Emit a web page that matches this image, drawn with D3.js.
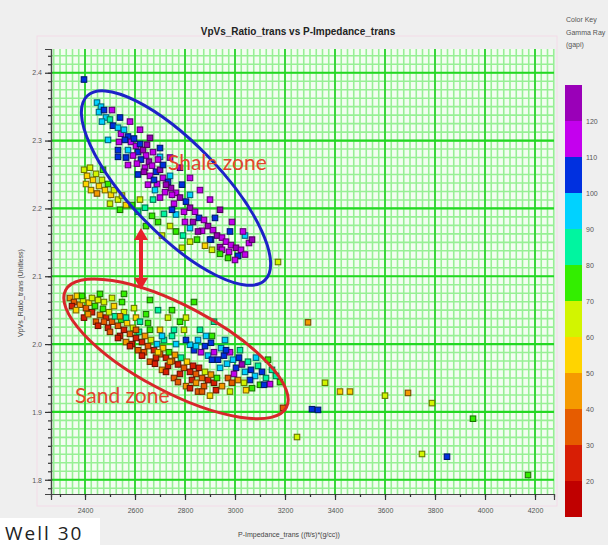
<!DOCTYPE html>
<html><head><meta charset="utf-8">
<script src="https://cdn.jsdelivr.net/npm/d3@7"></script>
<style>body{margin:0;background:#fff}svg{display:block}</style>
</head><body>
<svg id="chart" width="608" height="545"></svg>
<script>
// Gamma ray colour key (gapi): band edges and colours
const gammaBreaks = [20, 30, 40, 50, 60, 70, 80, 90, 100, 110, 120];
const gammaColors = ["#c00000", "#d81e05", "#e65c00", "#f59a00", "#ffd400", "#d2f500",
                     "#33ee00", "#00f5a0", "#00d2ff", "#0030e0", "#c400ee", "#9a00b8"];
const gammaRange = [10, 130];
const keyLabels = [20, 30, 40, 50, 60, 70, 80, 90, 100, 110, 120];

// Axis ticks
const xTicks = [2400, 2600, 2800, 3000, 3200, 3400, 3600, 3800, 4000, 4200];
const yTicks = [1.8, 1.9, 2.0, 2.1, 2.2, 2.3, 2.4];
const xDomain = [2264, 4276];
const yDomain = [1.779, 2.435];

// Samples: [P-impedance, Vp/Vs, gamma ray]
const shalePts = [
 [2396,2.390,104],[2448,2.356,92],[2464,2.350,95],[2456,2.342,90],[2476,2.345,100],
 [2484,2.334,92],[2468,2.328,96],[2500,2.331,88],[2512,2.322,104],[2532,2.319,94],
 [2544,2.310,115],[2556,2.316,92],[2536,2.298,118],[2572,2.306,104],[2584,2.298,112],
 [2596,2.303,100],[2604,2.292,118],[2620,2.295,108],[2612,2.283,104],[2632,2.286,120],
 [2592,2.278,112],[2644,2.278,118],[2624,2.272,102],[2656,2.269,124],[2608,2.266,115],
 [2640,2.260,110],[2668,2.263,119],[2684,2.254,104],[2660,2.248,116],[2700,2.257,122],
 [2712,2.245,112],[2688,2.236,118],[2732,2.239,106],[2744,2.230,120],[2720,2.224,114],
 [2764,2.223,110],[2780,2.216,122],[2756,2.207,116],[2804,2.210,108],[2820,2.201,120],
 [2796,2.195,112],[2840,2.195,118],[2856,2.186,106],[2832,2.180,124],[2876,2.183,114],
 [2892,2.174,120],[2868,2.167,110],[2912,2.168,116],[2928,2.160,122],[2904,2.154,108],
 [2948,2.157,118],[2964,2.151,112],[2940,2.143,120],[2984,2.146,116],[3004,2.142,122],
 [2976,2.136,110],[3024,2.139,118],[3040,2.132,114],[3012,2.130,106],[3056,2.149,118],
 [2572,2.286,94],[2564,2.275,108],[2700,2.276,98],[2740,2.248,96],[2680,2.227,92],
 [2764,2.191,95],[2820,2.171,98],[2920,2.186,102],[2980,2.166,104],[3040,2.160,92],
 [2532,2.276,100],[2560,2.301,102],
 [2508,2.345,110],[2540,2.334,104],[2580,2.328,118],[2620,2.316,112],[2660,2.304,120],
 [2700,2.289,108],[2740,2.275,116],[2780,2.260,122],[2820,2.245,110],[2860,2.227,118],
 [2900,2.213,112],[2940,2.198,120],[2988,2.180,116],[3032,2.166,110],[3068,2.154,122],
 [2492,2.301,98],[2532,2.286,106],[2572,2.264,114],[2612,2.250,104],[2652,2.235,118],
 [2700,2.216,110],[2748,2.198,100],[2800,2.180,114],[2852,2.166,120],[2900,2.154,106],
 [2948,2.139,118],[3000,2.124,112],
 [2648,2.294,122],[2672,2.283,110],[2692,2.272,118],[2712,2.264,104],[2636,2.254,120],
 [2676,2.242,108],[2724,2.235,124],[2748,2.220,112],[2788,2.235,104],[2820,2.220,96]
];
const shaleLowPts = [
 [2588,2.205,75],[2612,2.195,82],[2640,2.201,88],[2668,2.189,72],[2692,2.180,78],
 [2716,2.192,85],[2740,2.174,66],[2764,2.166,72],[2792,2.160,80],[2820,2.151,64],
 [2848,2.154,74],[2880,2.145,58],[2908,2.139,68],[2940,2.133,76],[2708,2.160,62],
 [2644,2.174,70],[2788,2.142,60],[2972,2.127,72],[2620,2.213,66],[2672,2.213,84]
];
const siltPts = [
 [2396,2.257,62],[2408,2.248,58],[2420,2.260,66],[2432,2.242,55],[2444,2.251,60],
 [2456,2.233,52],[2468,2.242,64],[2480,2.227,58],[2492,2.236,70],[2504,2.220,56],
 [2516,2.227,62],[2532,2.213,60],[2548,2.219,68],[2564,2.205,58],[2424,2.227,54],
 [2448,2.222,48],[2500,2.207,66],[2540,2.198,72],[2472,2.257,72],[2404,2.236,50]
];
const sandPts = [
 [2340,2.068,40],[2356,2.062,30],[2368,2.071,55],[2380,2.058,45],[2392,2.065,65],
 [2404,2.053,35],[2416,2.061,58],[2428,2.047,28],[2440,2.056,72],[2452,2.065,62],
 [2460,2.043,42],[2472,2.052,78],[2484,2.039,25],[2496,2.047,66],[2508,2.033,38],
 [2520,2.041,85],[2532,2.027,30],[2544,2.036,74],[2556,2.021,22],[2568,2.031,58],
 [2580,2.015,35],[2592,2.024,68],[2604,2.009,28],[2616,2.018,80],[2628,2.003,24],
 [2640,2.012,48],[2652,1.997,32],[2664,2.006,62],[2676,1.991,26],[2688,2.000,90],
 [2700,1.985,36],[2712,1.994,55],[2724,1.980,22],[2736,1.988,76],[2748,1.975,30],
 [2760,1.984,44],[2772,1.970,25],[2784,1.980,88],[2796,1.965,33],[2808,1.974,58],
 [2820,1.959,20],[2832,1.968,28],[2844,1.956,35],[2856,1.965,24],[2868,1.950,30],
 [2880,1.959,64],[2892,1.947,22],[2904,1.955,40],[2916,1.943,26],[2928,1.950,70],
 [2820,1.999,98],[2836,1.991,105],[2852,2.006,92],[2864,1.988,110],[2880,1.997,100],
 [2892,1.983,96],[2904,2.002,104],[2916,1.988,118],[2932,1.977,102],[2944,1.994,94],
 [2956,1.983,108],[2968,1.971,98],[2980,1.988,112],[2992,1.977,92],[3004,1.965,104],
 [3016,1.980,100],[3028,1.970,120],[3040,1.959,96],[3052,1.974,88],[3064,1.962,106],
 [3080,1.953,94],[3092,1.968,80],[3108,1.959,100],[3124,1.950,86],[3140,1.941,112],
 [3100,1.940,76],[3068,1.935,70],[3164,1.953,84],[3132,1.977,78],
 [2460,2.074,72],[2508,2.068,66],[2548,2.062,78],[2596,2.053,62],[2644,2.044,74],
 [2692,2.050,82],[2732,2.039,68],[2780,2.033,76],[2836,2.062,72],[2796,2.021,64],
 [2748,2.012,80],[2700,2.021,58],[2652,2.031,70],[2604,2.039,52],[2556,2.047,60],
 [2860,2.021,86],[2908,2.012,78],[2960,2.006,90],[2764,2.000,92],[2716,2.006,84],
 [2396,2.039,26],[2444,2.033,32],[2492,2.024,22],[2540,2.012,28],[2588,2.000,20],
 [2636,1.988,30],[2684,1.980,24],[2732,1.968,28],[2780,1.956,22],[2828,1.947,26],
 [2876,1.938,34],[2924,1.932,24],[2972,1.950,30],[2948,1.938,42],[3012,1.947,46],
 [2660,1.974,38],[2564,2.003,44],[2612,1.991,36],[2708,1.962,40],[2756,1.950,34],
 [2804,1.938,48],[2852,1.930,38],[2980,1.930,62],[3044,1.932,58],[2900,1.924,50],
 [2348,2.056,28],[2364,2.050,50],[2388,2.071,70],[2412,2.044,40],[2428,2.068,60],
 [2452,2.027,24],[2476,2.062,66],[2500,2.018,30],[2516,2.056,56],[2532,2.009,26],
 [2564,2.039,80],[2580,1.997,22],[2620,2.033,86],[2628,1.983,28],[2660,2.021,76],
 [2680,1.971,20],[2708,2.012,92],[2724,1.959,26],[2756,2.021,88],[2772,1.944,30],
 [2804,2.006,100],[2820,1.935,24],[2844,1.997,94],[2868,1.930,32],[2884,2.012,90],
 [2908,1.977,108],[2940,1.965,96],[2964,1.991,100],[2996,1.956,114],[3020,1.991,84],
 [3060,1.947,100],[3084,1.980,92],[3116,1.940,104],[3148,1.962,88],[3180,1.944,74],
 [3036,1.943,64],[2988,1.943,36],[2844,1.943,40],[2740,1.974,44],[2692,1.988,50],
 [2604,2.021,34],[2540,2.041,42],[2476,2.033,36],[2556,2.074,74],[2660,2.065,70],
 [2748,2.050,76],[2804,2.039,62],[2916,2.033,80]
];
const outlierPts = [
 [3292,2.032,45],[3360,1.943,62],[3420,1.930,55],[3460,1.930,58],[3308,1.904,104],
 [3332,1.903,108],[3248,1.863,66],[3600,1.924,64],[3692,1.928,46],[3788,1.913,60],
 [3952,1.890,70],[3748,1.838,64],[3848,1.834,104],[4172,1.807,72],[3172,2.121,64],
 [3192,1.906,35]
];

// Interpretation annotations (centres in data units)
const shaleZone = {cx: 2764, cy: 2.230, rx: 128, ry: 45, angle: 46, label: "Shale zone", lx: 2732, ly: 2.257};
const sandZone  = {cx: 2764, cy: 1.993, rx: 125, ry: 43, angle: 28, label: "Sand zone", lx: 2360, ly: 1.913};
const separationArrow = {x: 2624, y1: 2.171, y2: 2.080};

const svg = d3.select("#chart");
const W = 608, H = 545;
const plot = {left: 51, right: 554, top: 49, bottom: 494};
const smallFont = "7px 'Liberation Sans', Arial, sans-serif";

// page background
svg.append("rect").attr("width", W).attr("height", H).attr("fill", "#efefef");
svg.append("rect").attr("x", 37).attr("y", 36).attr("width", 520).attr("height", 470)
  .attr("fill", "none").attr("stroke", "#f3dbe8").attr("stroke-width", 1);

const x = d3.scaleLinear().domain(xDomain).range([plot.left, plot.right]);
const y = d3.scaleLinear().domain(yDomain).range([plot.bottom, plot.top]);
const color = d3.scaleThreshold().domain(gammaBreaks).range(gammaColors);

// plot area and grid
svg.append("rect").attr("x", plot.left).attr("y", plot.top)
  .attr("width", plot.right - plot.left).attr("height", plot.bottom - plot.top)
  .attr("fill", "#f3fdf1");

const xMinor = d3.range(2275, 4276, 25);
const yMinor = d3.range(1.7875, 2.435, 0.0125);
const grid = svg.append("g");
grid.selectAll(".vx").data(xMinor).join("line")
  .attr("x1", d => x(d)).attr("x2", d => x(d)).attr("y1", plot.top).attr("y2", plot.bottom)
  .attr("stroke", "#97f095").attr("stroke-width", 1.6);
grid.selectAll(".hy").data(yMinor).join("line")
  .attr("x1", plot.left).attr("x2", plot.right).attr("y1", d => y(d)).attr("y2", d => y(d))
  .attr("stroke", "#97f095").attr("stroke-width", 1.6);
grid.selectAll(".vX").data(xTicks).join("line")
  .attr("x1", d => x(d)).attr("x2", d => x(d)).attr("y1", plot.top).attr("y2", plot.bottom)
  .attr("stroke", "#3ad63a").attr("stroke-width", 2);
grid.selectAll(".hY").data(yTicks).join("line")
  .attr("x1", plot.left).attr("x2", plot.right).attr("y1", d => y(d)).attr("y2", d => y(d))
  .attr("stroke", "#22d822").attr("stroke-width", 2.2);

// axes
const xAxis = svg.append("g").attr("transform", `translate(0,${plot.bottom})`)
  .call(d3.axisBottom(x).tickValues(xTicks).tickFormat(d3.format("d")).tickSize(6).tickPadding(8));
const xMinorAxis = svg.append("g").attr("transform", `translate(0,${plot.bottom})`)
  .call(d3.axisBottom(x).tickValues(d3.range(2300, 4276, 100)).tickFormat("").tickSize(3));
const yAxis = svg.append("g").attr("transform", `translate(${plot.left},0)`)
  .call(d3.axisLeft(y).tickValues(yTicks).tickFormat(d3.format(".1f")).tickSize(6).tickPadding(3));
const yMinorAxis = svg.append("g").attr("transform", `translate(${plot.left},0)`)
  .call(d3.axisLeft(y).tickValues(yMinor).tickFormat("").tickSize(3));
[xAxis, xMinorAxis, yAxis, yMinorAxis].forEach(g => {
  g.select(".domain").attr("stroke", "#444").attr("stroke-width", 1.2);
  g.selectAll(".tick line").attr("stroke", "#333").attr("stroke-width", 1.2);
  g.selectAll("text").attr("fill", "#555").style("font", smallFont);
});

// samples
const allGroups = [siltPts, shalePts, shaleLowPts, sandPts, outlierPts];
const s = 5.5;
allGroups.forEach(pts => {
  svg.append("g").selectAll("rect").data(pts).join("rect")
    .attr("x", d => x(d[0]) - s / 2).attr("y", d => y(d[1]) - s / 2)
    .attr("width", s).attr("height", s)
    .attr("fill", d => color(d[2]))
    .attr("stroke", d => d3.color(color(d[2])).darker(2))
    .attr("stroke-width", 1.1);
});

// zone ellipses
function zoneEllipse(z, stroke) {
  svg.append("ellipse")
    .attr("transform", `translate(${x(z.cx)},${y(z.cy)}) rotate(${z.angle})`)
    .attr("rx", z.rx).attr("ry", z.ry)
    .attr("fill", "none").attr("stroke", stroke).attr("stroke-width", 3);
}
zoneEllipse(shaleZone, "#1d22c8");
zoneEllipse(sandZone, "#d8262a");

// double-headed arrow between zones
const ax = x(separationArrow.x), ay1 = y(separationArrow.y1), ay2 = y(separationArrow.y2);
svg.append("line").attr("x1", ax).attr("x2", ax).attr("y1", ay1 + 10).attr("y2", ay2 - 10)
  .attr("stroke", "#e8202a").attr("stroke-width", 4);
svg.append("path").attr("d", `M${ax},${ay1} l-7,12 l14,0 Z`).attr("fill", "#e8202a");
svg.append("path").attr("d", `M${ax},${ay2} l-7,-12 l14,0 Z`).attr("fill", "#e8202a");

// zone labels
[shaleZone, sandZone].forEach(z => {
  svg.append("text").attr("x", x(z.lx)).attr("y", y(z.ly))
    .attr("fill", "#e2442c").style("font", "21px Lato, 'Open Sans', sans-serif")
    .text(z.label);
});

// titles
svg.append("text").attr("x", 298).attr("y", 35).attr("text-anchor", "middle")
  .style("font", "bold 10px 'Liberation Sans', Arial, sans-serif").attr("fill", "#222")
  .text("VpVs_Ratio_trans vs P-Impedance_trans");
svg.append("text").attr("x", 289).attr("y", 537).attr("text-anchor", "middle")
  .style("font", smallFont).attr("fill", "#444")
  .text("P-Impedance_trans ((ft/s)*(g/cc))");
svg.append("text").attr("transform", "translate(23,293) rotate(-90)").attr("text-anchor", "middle")
  .style("font", smallFont).attr("fill", "#444")
  .text("VpVs_Ratio_trans (Unitless)");

// colour key
const ky = d3.scaleLinear().domain(gammaRange).range([517, 85]);
const bands = d3.range(gammaColors.length).map(i => ({
  lo: i === 0 ? gammaRange[0] : gammaBreaks[i - 1],
  hi: i === gammaBreaks.length ? gammaRange[1] : gammaBreaks[i],
  c: gammaColors[i]
}));
svg.append("g").selectAll("rect").data(bands).join("rect")
  .attr("x", 565).attr("width", 17)
  .attr("y", d => ky(d.hi)).attr("height", d => ky(d.lo) - ky(d.hi))
  .attr("fill", d => d.c);
svg.append("g").selectAll("text").data(keyLabels).join("text")
  .attr("x", 586).attr("y", d => ky(d) + 2.5)
  .style("font", smallFont).attr("fill", "#555")
  .text(d => d);
["Color Key", "Gamma Ray", "(gapi)"].forEach((t, i) => {
  svg.append("text").attr("x", 566).attr("y", 22 + i * 12.5)
    .style("font", smallFont).attr("fill", "#555").text(t);
});

// well name
svg.append("rect").attr("x", 0).attr("y", 518).attr("width", 100).attr("height", 27).attr("fill", "#fff");
svg.append("text").attr("x", 5).attr("y", 540)
  .style("font", "19px 'Open Sans', sans-serif").style("letter-spacing", "2px")
  .attr("fill", "#222").text("Well 30");
</script>
</body></html>
